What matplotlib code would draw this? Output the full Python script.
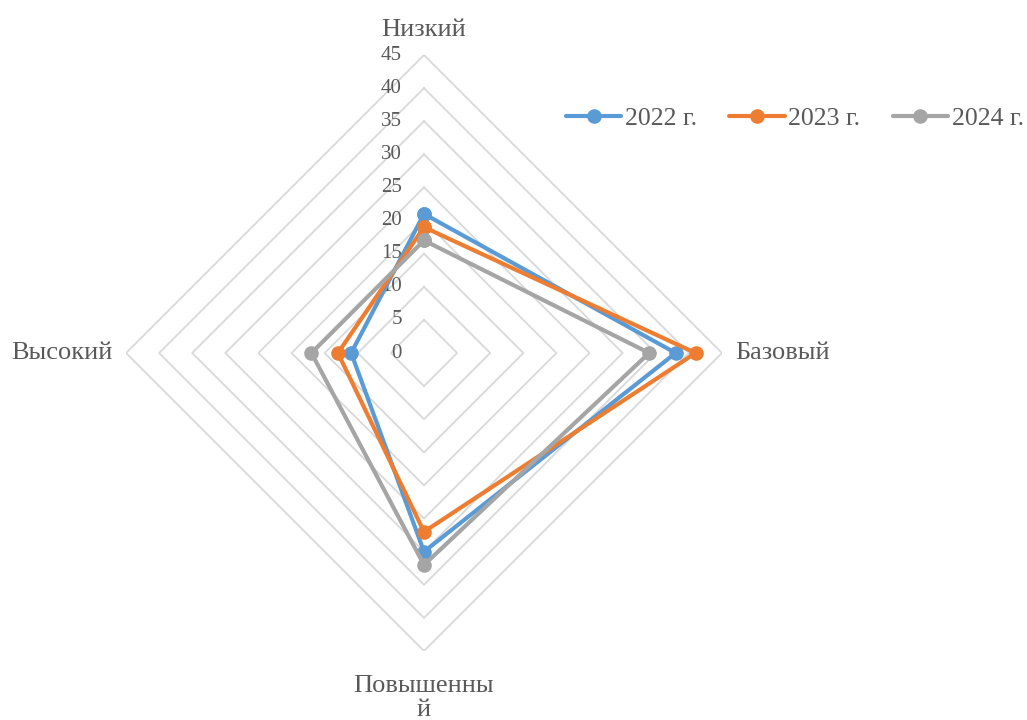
import numpy as np
import matplotlib
matplotlib.use('Agg')
import matplotlib.pyplot as plt

categories = ['Низкий', 'Базовый', 'Повышенны\nй', 'Высокий']
series_names = ['2022 г.', '2023 г.', '2024 г.']
values_2022 = [21, 38, 30, 11]
values_2023 = [19, 41, 27, 13]
values_2024 = [17, 34, 32, 17]
grid_levels = [5, 10, 15, 20, 25, 30, 35, 40, 45]
tick_values = [0, 5, 10, 15, 20, 25, 30, 35, 40, 45]

colors = ['#5b9bd5', '#ed7d31', '#a5a5a5']
text_color = '#595959'
grid_color = '#d9d9d9'

plt.rcParams['font.family'] = ['Liberation Serif', 'DejaVu Serif']

W, H = 1027, 720
fig = plt.figure(figsize=(W / 100, H / 100), dpi=100)
cx, cy, r = 424, 353, 298
ax = fig.add_axes([(cx - r) / W, (H - cy - r) / H, 2 * r / W, 2 * r / H], projection='polar')
ax.set_theta_offset(np.pi / 2)
ax.set_theta_direction(-1)
ax.set_ylim(0, 45)
ax.grid(False)
ax.spines['polar'].set_visible(False)
ax.set_xticks([])
ax.set_yticks([])
ax.patch.set_alpha(0)

angles = np.linspace(0, 2 * np.pi, len(categories), endpoint=False)
closed = np.append(angles, angles[0])

for lvl in grid_levels:
    ax.plot(closed, [lvl] * len(closed), color=grid_color, lw=1.3, zorder=1)

# value labels along the top axis
for v in tick_values:
    ax.annotate(str(v), xy=(0, v), xytext=(-16, 0), textcoords='offset points',
                ha='right', va='center', fontsize=15, color=text_color)

for name, vals, c in zip(series_names, [values_2022, values_2023, values_2024], colors):
    ax.plot(closed, list(vals) + [vals[0]], color=c, lw=3, marker='o', ms=9.5,
            label=name, zorder=3, solid_joinstyle='round', solid_capstyle='round')

# category labels
offsets = [(0, 10, 'center', 'bottom'), (9.5, 0, 'left', 'center'),
           (0, -17, 'center', 'top'), (-10, 0, 'right', 'center')]
for ang, cat, (dx, dy, ha, va) in zip(angles, categories, offsets):
    ax.annotate(cat, xy=(ang, 45), xytext=(dx, dy), textcoords='offset points',
                ha=ha, va=va, fontsize=19, color=text_color, linespacing=1.15)

fig.legend(loc='center left', bbox_to_anchor=(566 / W, 1 - 119 / H), ncol=3, frameon=False,
           fontsize=18.5, handlelength=2.15, handletextpad=0.15, columnspacing=1.25,
           borderpad=0, borderaxespad=0, labelcolor=text_color)

fig.savefig('out.png', dpi=100)
